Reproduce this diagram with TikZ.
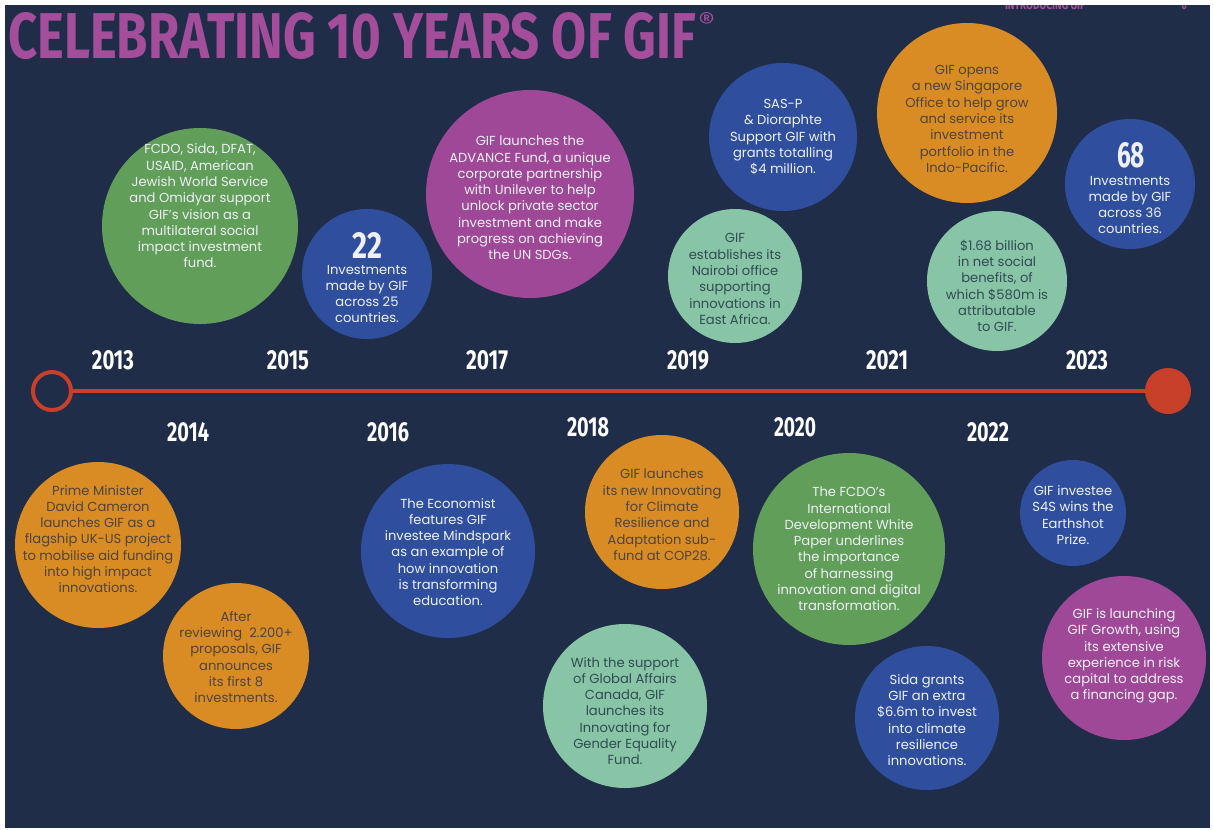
\documentclass[tikz,border=0pt]{standalone}
\usepackage{fontspec}
\usepackage{graphicx}
\setmainfont{Poppins}
\newfontfamily\condfont{Fira Sans}
\definecolor{navy}{RGB}{31,45,72}
\definecolor{cgreen}{RGB}{96,158,90}
\definecolor{cblue}{RGB}{47,79,158}
\definecolor{cpurple}{RGB}{160,72,152}
\definecolor{corange}{RGB}{218,140,36}
\definecolor{cmint}{RGB}{136,196,166}
\definecolor{cred}{RGB}{200,64,42}
\definecolor{ctitle}{RGB}{163,77,155}
\definecolor{darktxt}{RGB}{78,68,62}
\definecolor{minttxt}{RGB}{48,76,84}
\definecolor{lighttxt}{RGB}{238,240,244}
\newcommand\yrlabel[1]{\resizebox{42pt}{19pt}{\condfont\bfseries #1}}
\tikzset{
  bubble/.style={circle, inner sep=0pt, draw=none, minimum size=#1},
  btext/.style={align=center, inner sep=0pt, font=\fontsize{13.1}{16.3}\selectfont},
  wtxt/.style={btext, text=lighttxt},
  otxt/.style={btext, text=darktxt},
  mtxt/.style={btext, text=minttxt},
  yearlbl/.style={inner sep=0pt, text=white},
}
\begin{document}
\begin{tikzpicture}[x=1pt,y=-1pt]
\useasboundingbox (0,0) rectangle (1213,830);
\fill[white] (0,0) rectangle (1213,830);
\fill[navy] (5,5) rectangle (1210,828);

% header
\begin{scope}
\clip (5,5) rectangle (1210,828);
\node[anchor=base, inner sep=0pt, text=ctitle] (intro) at (1045,9) {\resizebox{80pt}{9pt}{\condfont\bfseries INTRODUCING GIF}};
\node[anchor=base, inner sep=0pt, text=ctitle] (pgno) at (1184,9) {\resizebox{5pt}{9pt}{\condfont\bfseries 6}};
\end{scope}
\node[anchor=base west, inner sep=0pt, text=ctitle] (title) at (8,58) {\resizebox{688pt}{46pt}{\condfont\bfseries CELEBRATING 10 YEARS OF GIF}};
\node[anchor=north west, inner sep=0pt, text=ctitle] (reg) at (698,12) {\resizebox{17pt}{17pt}{\condfont ®}};

% timeline
\node[circle, draw=cred, line width=4pt, fill=navy, minimum size=38pt, inner sep=0pt] (lc) at (52,391) {};
\node[circle, fill=cred, minimum size=46pt, inner sep=0pt] (rc) at (1168,391) {};
\draw[cred, line width=4.5pt] (lc.east) -- (rc.west);

% years
\node[yearlbl] (y13) at (113,360) {\yrlabel{2013}};
\node[yearlbl] (y15) at (288,360) {\yrlabel{2015}};
\node[yearlbl] (y17) at (487,360) {\yrlabel{2017}};
\node[yearlbl] (y19) at (688,360) {\yrlabel{2019}};
\node[yearlbl] (y21) at (887,360) {\yrlabel{2021}};
\node[yearlbl] (y23) at (1087,360) {\yrlabel{2023}};
\node[yearlbl] (y14) at (188,432) {\yrlabel{2014}};
\node[yearlbl] (y16) at (388,432) {\yrlabel{2016}};
\node[yearlbl] (y18) at (588,427) {\yrlabel{2018}};
\node[yearlbl] (y20) at (795,427) {\yrlabel{2020}};
\node[yearlbl] (y22) at (988,432) {\yrlabel{2022}};

% top bubbles
\node[bubble=196pt, fill=cgreen] (b1) at (200,226) {};
\node[wtxt] (t1) at (200,206) {FCDO, Sida, DFAT,\\USAID, American\\Jewish World Service\\and Omidyar support\\GIF’s vision as a\\multilateral social\\impact investment\\fund.};

\node[bubble=130pt, fill=cblue] (b2) at (367,274) {};
\node[inner sep=0pt, text=lighttxt] (n2) at (367,245) {\resizebox{30pt}{26pt}{\condfont\bfseries 22}};
\begin{scope}
\clip (300,255) rectangle (440,321);
\node[wtxt] (t2) at (367,294) {Investments\\made by GIF\\across 25\\countries.};
\end{scope}

\node[bubble=208pt, fill=cpurple] (b3) at (530,194) {};
\node[wtxt] (t3) at (530,198) {GIF launches the\\ADVANCE Fund, a unique\\corporate partnership\\with Unilever to help\\unlock private sector\\investment and make\\progress on achieving\\the UN SDGs.};

\node[bubble=148pt, fill=cblue] (b4) at (783,137) {};
\node[wtxt] (t4) at (783,137) {SAS-P\\\& Dioraphte\\Support GIF with\\grants totalling\\\$4 million.};

\node[bubble=134pt, fill=cmint] (b5) at (735,276) {};
\node[mtxt] (t5) at (735,279) {GIF\\establishes its\\Nairobi office\\supporting\\innovations in\\East Africa.};

\node[bubble=180pt, fill=corange] (b6) at (967,113) {};
\node[otxt] (t6) at (967,119) {GIF opens\\a new Singapore\\Office to help grow\\and service its\\investment\\portfolio in the\\Indo-Pacific.};

\node[bubble=140pt, fill=cmint] (b7) at (997,281) {};
\node[mtxt] (t7) at (997,286) {\$1.68 billion\\in net social\\benefits, of\\which \$580m is\\attributable\\to GIF.};

\node[bubble=130pt, fill=cblue] (b8) at (1130,184) {};
\node[inner sep=0pt, text=lighttxt] (n8) at (1131,155) {\resizebox{28pt}{25pt}{\condfont\bfseries 68}};
\node[wtxt] (t8) at (1130,205) {Investments\\made by GIF\\across 36\\countries.};

% bottom bubbles
\node[bubble=166pt, fill=corange] (b9) at (98,545) {};
\node[otxt] (t9) at (98,539) {Prime Minister\\David Cameron\\launches GIF as a\\flagship UK-US project\\to mobilise aid funding\\into high impact\\innovations.};

\node[bubble=146pt, fill=corange] (b10) at (236,656) {};
\node[otxt] (t10) at (236,657) {After\\reviewing\ \ 2.200+\\proposals, GIF\\announces\\its first 8\\investments.};

\node[bubble=174pt, fill=cblue] (b11) at (448,551) {};
\node[wtxt] (t11) at (448,552) {The Economist\\features GIF\\investee Mindspark\\as an example of\\how innovation\\is transforming\\education.};

\node[bubble=154pt, fill=corange] (b12) at (662,512) {};
\node[otxt] (t12) at (662,515) {GIF launches\\its new Innovating\\for Climate\\Resilience and\\Adaptation sub-\\fund at COP28.};

\node[bubble=164pt, fill=cmint] (b13) at (625,706) {};
\node[mtxt] (t13) at (625,711) {With the support\\of Global Affairs\\Canada, GIF\\launches its\\Innovating for\\Gender Equality\\Fund.};

\node[bubble=192pt, fill=cgreen] (b14) at (849,549) {};
\node[wtxt] (t14) at (849,549) {The FCDO’s\\International\\Development White\\Paper underlines\\the importance\\of harnessing\\innovation and digital\\transformation.};

\node[bubble=106pt, fill=cblue] (b15) at (1073,513) {};
\node[wtxt] (t15) at (1073,515) {GIF investee\\S4S wins the\\Earthshot\\Prize.};

\node[bubble=144pt, fill=cblue] (b16) at (927,718) {};
\node[wtxt] (t16) at (927,720) {Sida grants\\GIF an extra\\\$6.6m to invest\\into climate\\resilience\\innovations.};

\node[bubble=164pt, fill=cpurple] (b17) at (1124,658) {};
\node[wtxt] (t17) at (1124,656) {GIF is launching\\GIF Growth, using\\its extensive\\experience in risk\\capital to address\\a financing gap.};
\end{tikzpicture}
\end{document}
